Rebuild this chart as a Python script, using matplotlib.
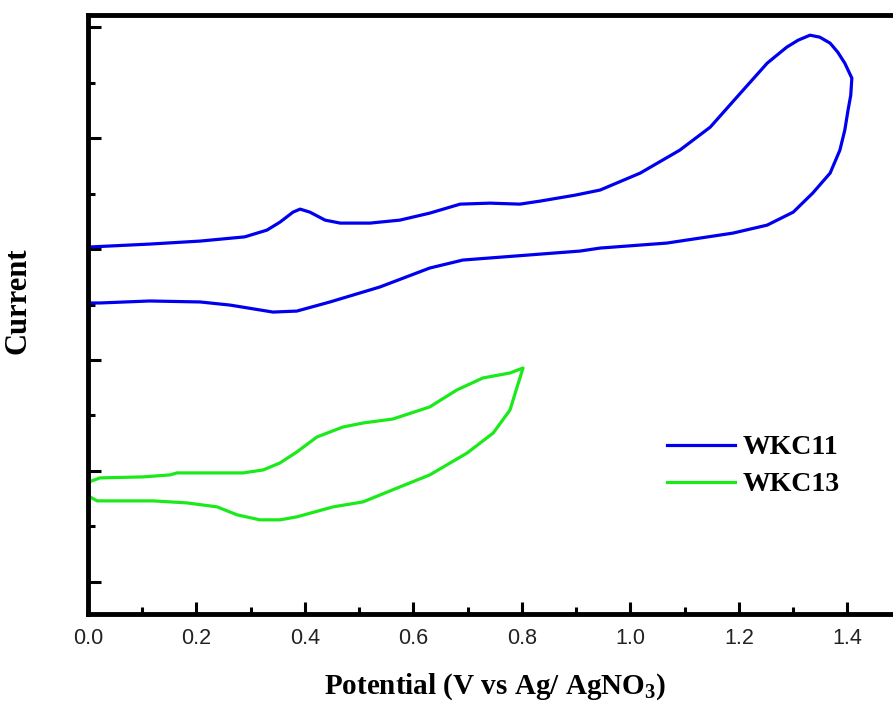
import matplotlib.pyplot as plt
from matplotlib.ticker import MultipleLocator, NullFormatter

# subindice del NO3 en la misma fuente serif negrita
plt.rcParams['mathtext.fontset'] = 'custom'
plt.rcParams['mathtext.rm'] = 'Liberation Serif:bold'
plt.rcParams['mathtext.bf'] = 'Liberation Serif:bold'

# voltammograma ciclico: barrido directo y de regreso para cada muestra
wkc11_e = [0.000, 0.114, 0.207, 0.289, 0.330, 0.354, 0.378, 0.391, 0.409, 0.437,
           0.465, 0.520, 0.575, 0.630, 0.686, 0.741, 0.796, 0.833, 0.898, 0.944,
           1.018, 1.091, 1.147, 1.196, 1.252, 1.288, 1.309, 1.331, 1.349, 1.368,
           1.382, 1.395, 1.408,
           1.406, 1.401, 1.395, 1.386, 1.368, 1.336, 1.300, 1.252, 1.189, 1.067,
           0.944, 0.907, 0.691, 0.630, 0.538, 0.446, 0.385, 0.341, 0.262, 0.207,
           0.114, 0.022, 0.000]
wkc11_i = [30.18, 30.45, 30.72, 31.10, 31.71, 32.43, 33.33, 33.60, 33.33, 32.61,
           32.34, 32.34, 32.61, 33.24, 34.05, 34.14, 34.05, 34.32, 34.86, 35.32,
           36.85, 38.92, 40.99, 43.69, 46.76, 48.20, 48.83, 49.28, 49.10, 48.56,
           47.75, 46.76, 45.41,
           43.87, 42.52, 40.72, 38.92, 36.85, 35.05, 33.33, 32.16, 31.44, 30.54,
           30.09, 29.82, 29.01, 28.29, 26.58, 25.23, 24.41, 24.32, 24.95, 25.23,
           25.32, 25.14, 25.14]

wkc13_e = [0.007, 0.022, 0.101, 0.151, 0.164, 0.286, 0.323, 0.354, 0.385, 0.422,
           0.470, 0.507, 0.562, 0.630, 0.680, 0.728, 0.778, 0.802,
           0.791, 0.778, 0.747, 0.699, 0.630, 0.575, 0.507, 0.452, 0.385, 0.354,
           0.317, 0.275, 0.238, 0.182, 0.120, 0.017, 0.000]
wkc13_i = [9.10, 9.37, 9.46, 9.64, 9.82, 9.82, 10.09, 10.72, 11.71, 13.06,
           13.96, 14.32, 14.68, 15.77, 17.30, 18.38, 18.83, 19.28,
           17.57, 15.50, 13.42, 11.62, 9.64, 8.56, 7.21, 6.76, 5.86, 5.59,
           5.59, 6.04, 6.76, 7.12, 7.30, 7.30, 7.75]

xticks = [0.0, 0.2, 0.4, 0.6, 0.8, 1.0, 1.2, 1.4]

fig = plt.figure(figsize=(8.93, 7.04), dpi=100)
# el eje se sale un poco por la derecha
ax = fig.add_axes([0.0985, 0.1278, 0.9113, 0.8509])

ax.plot(wkc11_e, wkc11_i, color='#0000ee', lw=2.3, label='WKC11')
ax.plot(wkc13_e, wkc13_i, color='#1aea1a', lw=2.3, label='WKC13')

ax.set_xlim(0, 1.5)
ax.set_ylim(-2.9, 51.1)

ax.set_xticks(xticks)
ax.set_xticklabels(['%.1f' % v for v in xticks], fontsize=15.5,
                   family='Liberation Sans', color='#222222')
ax.xaxis.set_minor_locator(MultipleLocator(0.1))
ax.yaxis.set_major_locator(MultipleLocator(10))
ax.yaxis.set_minor_locator(MultipleLocator(5))
ax.yaxis.set_major_formatter(NullFormatter())

ax.tick_params(which='both', direction='in', width=2.2, top=False, right=False)
ax.tick_params(which='major', length=9)
ax.tick_params(which='minor', length=5)
ax.tick_params(axis='x', pad=10)
for s in ax.spines.values():
    s.set_linewidth(3.5)

ax.set_xlabel(r'Potential (V vs Ag/ AgNO$_{\mathbf{3}}$)', fontsize=21,
              family='Liberation Serif', fontweight='bold', labelpad=16)
ax.set_ylabel('Current', fontsize=22, family='Liberation Serif', fontweight='bold')
ax.yaxis.set_label_coords(-0.0676, 0.5225)

ax.legend(loc='upper left', bbox_to_anchor=(0.731, 0.402), bbox_transform=fig.transFigure,
          frameon=False, handlelength=2.45, handletextpad=0.28, labelspacing=0.42,
          borderpad=0, prop={'family': 'Liberation Serif', 'weight': 'bold', 'size': 20})

fig.savefig('out.png', dpi=100)
